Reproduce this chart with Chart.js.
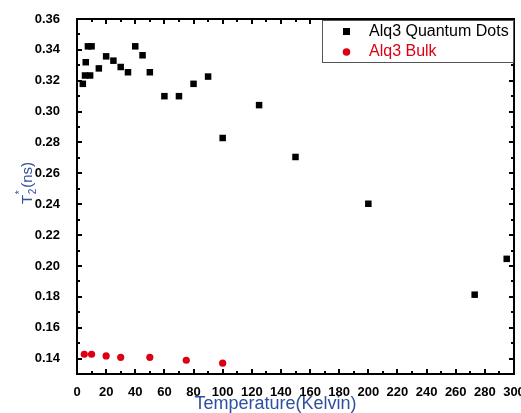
<!DOCTYPE html>
<html>
<head>
<meta charset="utf-8">
<script src="https://cdn.jsdelivr.net/npm/chart.js@4/dist/chart.umd.min.js"></script>
<style>
html,body{margin:0;padding:0;background:#fff;}
#c{display:block;}
</style>
</head>
<body>
<canvas id="c" width="521" height="413"></canvas>
<script>
// ---- data ----
const qdTemp = [4, 5.5, 6, 7.5, 9, 10, 15, 20, 25, 30, 35, 40, 45, 50, 60, 70, 80, 90, 100, 125, 150, 200, 273, 295];
const qdT2   = [0.318, 0.3234, 0.332, 0.3423, 0.3234, 0.3423, 0.328, 0.3358, 0.333, 0.3289, 0.3255, 0.3423, 0.3365, 0.3255, 0.310, 0.310, 0.318, 0.3227, 0.2829, 0.3042, 0.2706, 0.2403, 0.1814, 0.2046];
const bulkTemp = [5, 10, 20, 30, 50, 75, 100];
const bulkT2   = [0.1428, 0.1428, 0.1417, 0.1408, 0.1408, 0.1389, 0.137];
const xTickLabels = [0, 20, 40, 60, 80, 100, 120, 140, 160, 180, 200, 220, 240, 260, 280, 300];
const yTickLabels = [0.14, 0.16, 0.18, 0.20, 0.22, 0.24, 0.26, 0.28, 0.30, 0.32, 0.34, 0.36];
const seriesNames = ['Alq3 Quantum Dots', 'Alq3 Bulk'];
const xTitle = 'Temperature(Kelvin)';

const FONT = '"Liberation Sans", Arial, sans-serif';
const TITLE_BLUE = '#2f4f9f';
const RED = '#dc0012';

function minorsOf(arr, lo, hi) {
  const out = [];
  for (let i = 0; i < arr.length - 1; i++) out.push((arr[i] + arr[i + 1]) / 2);
  const step = arr[1] - arr[0];
  const first = arr[0] - step / 2;
  if (first >= lo - 1e-9) out.push(first);
  const last = arr[arr.length - 1] + step / 2;
  if (last <= hi + 1e-9) out.push(last);
  return out;
}

const framePlugin = {
  id: 'frame',
  afterDatasetsDraw(chart) {
    const ctx = chart.ctx;
    const a = chart.chartArea;
    const xs = chart.scales.x, ys = chart.scales.y;
    ctx.save();
    ctx.strokeStyle = '#000';
    ctx.lineWidth = 2;
    ctx.lineCap = 'butt';
    ctx.strokeRect(a.left, a.top, a.right - a.left, a.bottom - a.top);
    const maj = 5, min = 3;
    ctx.beginPath();
    xTickLabels.forEach(v => {
      const p = Math.round(xs.getPixelForValue(v));
      ctx.moveTo(p, a.bottom); ctx.lineTo(p, a.bottom - maj);
      ctx.moveTo(p, a.top); ctx.lineTo(p, a.top + maj);
    });
    minorsOf(xTickLabels, xs.min, xs.max).forEach(v => {
      const p = Math.round(xs.getPixelForValue(v));
      ctx.moveTo(p, a.bottom); ctx.lineTo(p, a.bottom - min);
      ctx.moveTo(p, a.top); ctx.lineTo(p, a.top + min);
    });
    yTickLabels.forEach(v => {
      const p = Math.round(ys.getPixelForValue(v));
      ctx.moveTo(a.left, p); ctx.lineTo(a.left + maj, p);
      ctx.moveTo(a.right, p); ctx.lineTo(a.right - maj, p);
    });
    minorsOf(yTickLabels, ys.min, ys.max).forEach(v => {
      const p = Math.round(ys.getPixelForValue(v));
      ctx.moveTo(a.left, p); ctx.lineTo(a.left + min, p);
      ctx.moveTo(a.right, p); ctx.lineTo(a.right - min, p);
    });
    ctx.stroke();

    // legend box
    const lx = 322.5, ly = 20.5, lw = 191, lh = 42;
    ctx.fillStyle = '#fff';
    ctx.fillRect(lx, ly, lw, lh);
    ctx.lineWidth = 1;
    ctx.strokeStyle = '#555';
    ctx.strokeRect(lx, ly, lw, lh);
    ctx.fillStyle = '#000';
    ctx.fillRect(343, 28, 7, 7);
    ctx.fillStyle = RED;
    ctx.beginPath(); ctx.arc(346.5, 52, 3.8, 0, Math.PI * 2); ctx.fill();
    ctx.font = '16px ' + FONT;
    ctx.textBaseline = 'middle';
    ctx.textAlign = 'left';
    ctx.fillStyle = '#000';
    ctx.fillText(seriesNames[0], 369, 32);
    ctx.fillStyle = RED;
    ctx.fillText(seriesNames[1], 369, 52);

    // x title
    ctx.fillStyle = TITLE_BLUE;
    ctx.font = '18px ' + FONT;
    ctx.textAlign = 'center';
    ctx.textBaseline = 'alphabetic';
    ctx.fillText(xTitle, 275.5, 409);

    // y title T2*(ns)
    ctx.save();
    ctx.translate(32, 204);
    ctx.rotate(-Math.PI / 2);
    ctx.textAlign = 'left';
    ctx.font = '15px ' + FONT;
    ctx.fillText('T', 0, 0);
    const tw = ctx.measureText('T').width;
    ctx.font = '10px ' + FONT;
    ctx.fillText('2', tw + 0.5, 4);
    ctx.fillText('*', tw + 0.5, -9);
    const sw = ctx.measureText('2').width;
    ctx.font = '15px ' + FONT;
    ctx.fillText('(ns)', tw + sw + 1.5, 0);
    ctx.restore();

    ctx.restore();
  }
};

new Chart(document.getElementById('c'), {
  type: 'scatter',
  data: {
    datasets: [
      {
        label: seriesNames[0],
        data: qdTemp.map((t, i) => ({ x: t, y: qdT2[i] })),
        pointStyle: 'rect',
        pointRadius: 4.6,
        backgroundColor: '#000',
        borderColor: '#000',
        borderWidth: 0
      },
      {
        label: seriesNames[1],
        data: bulkTemp.map((t, i) => ({ x: t, y: bulkT2[i] })),
        pointStyle: 'circle',
        pointRadius: 3.6,
        backgroundColor: RED,
        borderColor: RED,
        borderWidth: 0
      }
    ]
  },
  options: {
    responsive: false,
    animation: false,
    devicePixelRatio: 1,
    layout: { padding: { top: 19, right: 7, left: 0, bottom: 0 } },
    plugins: { legend: { display: false }, tooltip: { enabled: false } },
    scales: {
      x: {
        type: 'linear', min: 0, max: 300,
        afterBuildTicks(s) { s.ticks = xTickLabels.map(v => ({ value: v })); },
        afterFit(s) { s.height = 39; s.paddingLeft = 0; s.paddingRight = 0; },
        grid: { display: false },
        border: { display: false },
        ticks: {
          autoSkip: false, maxRotation: 0, padding: 3,
          color: '#000',
          font: { family: FONT, size: 13, weight: 'bold' },
          callback: v => String(v)
        }
      },
      y: {
        type: 'linear', min: 0.13, max: 0.36,
        afterBuildTicks(s) { s.ticks = yTickLabels.map(v => ({ value: v })); },
        afterFit(s) { s.width = 77; s.paddingTop = 0; s.paddingBottom = 0; },
        grid: { display: false },
        border: { display: false },
        ticks: {
          autoSkip: false, padding: 9,
          color: '#000',
          font: { family: FONT, size: 13, weight: 'bold' },
          callback: v => Number(v).toFixed(2)
        }
      }
    }
  },
  plugins: [framePlugin]
});
</script>
</body>
</html>
